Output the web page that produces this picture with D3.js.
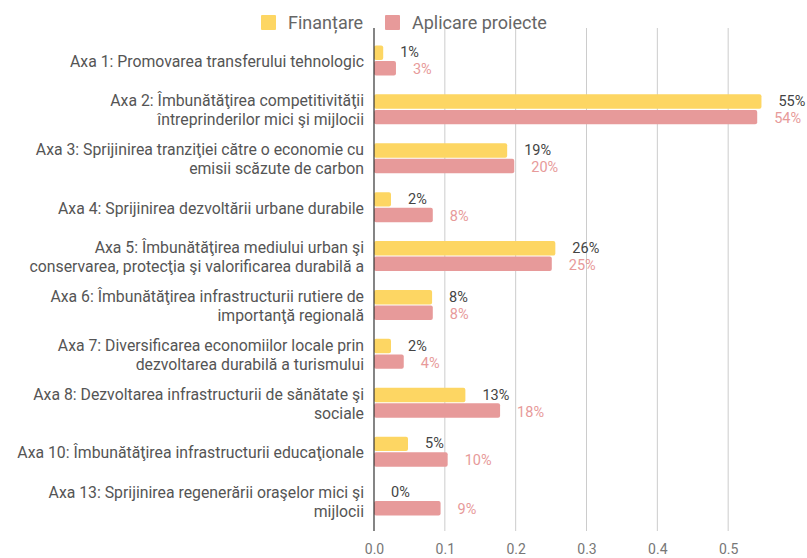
<!DOCTYPE html>
<html><head><meta charset="utf-8">
<script src="https://cdn.jsdelivr.net/npm/d3@7"></script>
<style>body{margin:0;background:#fff;} svg{display:block;font-family:Roboto,"Noto Sans",sans-serif;}</style>
</head><body>
<svg id="c" width="807" height="558"></svg>
<script>
const categories = [
  "Axa 1: Promovarea transferului tehnologic",
  "Axa 2: Îmbunătăţirea competitivităţii\nîntreprinderilor mici şi mijlocii",
  "Axa 3: Sprijinirea tranziţiei către o economie cu\nemisii scăzute de carbon",
  "Axa 4: Sprijinirea dezvoltării urbane durabile",
  "Axa 5: Îmbunătăţirea mediului urban şi\nconservarea, protecţia şi valorificarea durabilă a",
  "Axa 6: Îmbunătăţirea infrastructurii rutiere de\nimportanţă regională",
  "Axa 7: Diversificarea economiilor locale prin\ndezvoltarea durabilă a turismului",
  "Axa 8: Dezvoltarea infrastructurii de sănătate şi\nsociale",
  "Axa 10: Îmbunătăţirea infrastructurii educaţionale",
  "Axa 13: Sprijinirea regenerării oraşelor mici şi\nmijlocii"
];
const seriesNames = ["Finanțare", "Aplicare proiecte"];
const finantare = [0.013, 0.547, 0.188, 0.024, 0.256, 0.082, 0.024, 0.129, 0.048, 0.0];
const aplicare  = [0.031, 0.541, 0.198, 0.083, 0.251, 0.083, 0.042, 0.178, 0.104, 0.094];
const xTicks = [0, 0.1, 0.2, 0.3, 0.4, 0.5];

const colors = ["#fdd663", "#e79a9a"];
const labelColors = ["#444444", "#e79a9a"];
const svg = d3.select("#c");

const x = d3.scaleLinear().domain([0, 0.6]).range([374, 799]);
const y = d3.scaleBand().domain(categories).range([36, 525]);
const sub = d3.scaleBand().domain([0, 1]).range([-15, 15]).paddingInner(0.07);

// gridlines
svg.append("g").selectAll("line").data(xTicks.filter(t => t > 0)).join("line")
  .attr("x1", d => x(d)).attr("x2", d => x(d))
  .attr("y1", 28).attr("y2", 531)
  .attr("stroke", "#cccccc").attr("stroke-width", 1);

// x axis
const xAxis = d3.axisBottom(x).tickValues(xTicks).tickFormat(d3.format(".1f")).tickSize(0).tickPadding(0);
const gx = svg.append("g").attr("transform", "translate(0,549)").call(xAxis);
gx.select(".domain").remove();
gx.selectAll("text").attr("font-size", 14).attr("fill", "#777").attr("dy", "0.35em")
  .attr("font-family", "Roboto, sans-serif");

// bars
const series = [finantare, aplicare];
const labelShift = [-0.5, 1];
series.forEach((vals, si) => {
  const g = svg.append("g");
  g.selectAll("rect").data(vals).join("rect")
    .attr("x", x(0))
    .attr("y", (d, i) => y(categories[i]) + y.bandwidth() / 2 + sub(si))
    .attr("width", d => x(d) - x(0))
    .attr("height", sub.bandwidth())
    .attr("rx", 2).attr("ry", 2)
    .attr("fill", colors[si]);
  g.selectAll("text").data(vals).join("text")
    .attr("x", d => x(d) + 17)
    .attr("y", (d, i) => y(categories[i]) + y.bandwidth() / 2 + sub(si) + sub.bandwidth() / 2 + labelShift[si])
    .attr("dy", "0.35em")
    .attr("font-size", 14.5)
    .attr("fill", labelColors[si])
    .text(d => d3.format(".0%")(d));
});

// zero line
svg.append("line").attr("x1", x(0)).attr("x2", x(0)).attr("y1", 28).attr("y2", 531)
  .attr("stroke", "#333").attr("stroke-width", 1.2);

// category labels
const lh = 19;
categories.forEach(c => {
  const lines = c.split("\n");
  const cy = y(c) + y.bandwidth() / 2;
  const t = svg.append("text").attr("text-anchor", "end").attr("font-size", 15.8).attr("fill", "#555");
  lines.forEach((ln, i) => {
    t.append("tspan").attr("x", 364)
      .attr("y", cy + (i - (lines.length - 1) / 2) * lh + 1)
      .attr("dy", "0.35em").text(ln);
  });
});

// legend
const legX = [261, 385];
seriesNames.forEach((n, i) => {
  svg.append("rect").attr("x", legX[i]).attr("y", 15).attr("width", 15).attr("height", 15)
    .attr("rx", 1).attr("fill", colors[i]);
  svg.append("text").attr("x", legX[i] + 27).attr("y", 22.5).attr("dy", "0.35em")
    .attr("font-size", 18).attr("fill", "#666").text(n);
});
</script>
</body></html>
